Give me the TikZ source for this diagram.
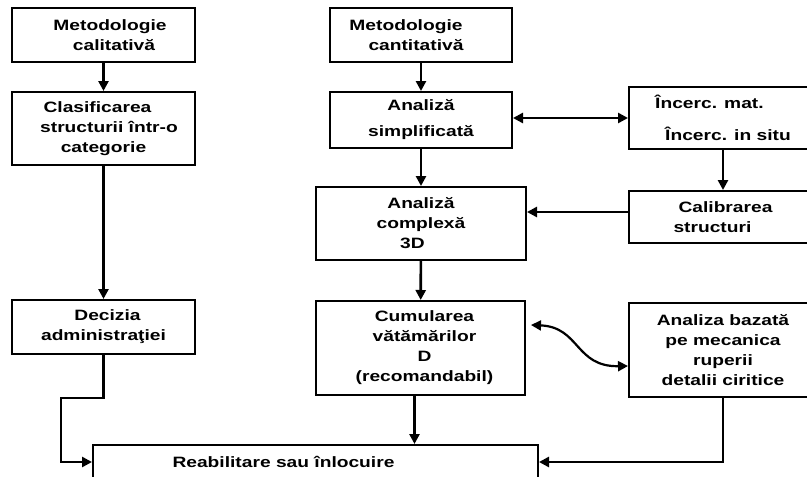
\documentclass[tikz,border=0pt]{standalone}
\usepackage{fontspec}
\setmainfont{Liberation Sans}[FakeStretch=1.28]
\usetikzlibrary{arrows.meta}
\begin{document}
\begin{tikzpicture}[x=1pt,y=-1pt,
  box/.style={draw, line width=2pt, inner sep=0pt, align=center,
    font=\fontsize{15}{20}\selectfont\bfseries},
  arr/.style={line width=2.6pt, -{Triangle[length=10pt,width=10pt]}},
  arrtwo/.style={line width=2.6pt, {Triangle[length=10pt,width=10pt]}-{Triangle[length=10pt,width=10pt]}}]
\useasboundingbox (0,0) rectangle (807,477);
\fill[white] (0,0) rectangle (807,477);
\clip (0,0) rectangle (807,477);
% left column
\node[box, minimum width=183pt, minimum height=54pt] (m1) at (103.5,35)
  {\hspace*{13pt}Metodologie\\\hspace*{21pt}calitativă};
\node[box, minimum width=183pt, minimum height=73pt] (c1) at (103.5,128.5)
  {Clasificarea\hspace*{12pt}\\\hspace*{11pt}structurii într-o\\categorie};
\node[box, minimum width=183pt, minimum height=54pt] (d1) at (103.5,327)
  {\hspace*{8pt}Decizia\\administraţiei};
% middle column
\node[box, minimum width=182pt, minimum height=54pt] (m2) at (421,35)
  {Metodologie\hspace*{30pt}\\cantitativă\hspace*{10pt}};
\node[box, minimum width=182pt, minimum height=56pt] (s2) at (421,120)
  {Analiză\\[6pt]simplificată};
\node[box, minimum width=210pt, minimum height=73pt] (x2) at (421,223.5)
  {Analiză\\complexă\hspace*{17pt}\\3D\hspace*{17pt}};
\node[box, minimum width=209pt, minimum height=94pt] (cu) at (420.5,348)
  {\hspace*{8pt}Cumularea\\\hspace*{8pt}vătămărilor\\\hspace*{8pt}D\\\hspace*{8pt}(recomandabil)};
% right column
\node[box, align=left, minimum width=188pt, minimum height=62pt] (inc) at (723,118)
  {Încerc. mat.\\[12pt]\hspace*{10pt}Încerc. in situ};
\node[box, align=left, minimum width=188pt, minimum height=52pt] (cal) at (723,217)
  {\hspace*{5pt}Calibrarea\\structuri};
\node[box, minimum width=188pt, minimum height=94pt] (an) at (723,350)
  {Analiza bazată\\pe mecanica\\ruperii\\detalii ciritice};
% bottom
\node[box, minimum width=445pt, minimum height=34pt] (reab) at (315.5,462)
  {Reabilitare sau înlocuire\hspace*{64pt}};
% connectors
\draw[arr] (m1) -- (c1);
\draw[arr] (c1) -- (d1);
\coordinate (k2) at (61,398);
\draw[arr] (d1.south) -- (d1.south |- k2) -- (k2) -- (k2 |- reab.west) -- (reab.west);
\draw[arr] (m2) -- (s2);
\draw[arr] (s2) -- (x2);
\draw[arr] (x2) -- (cu);
\draw[arrtwo] ([yshift=2pt]s2.east) -- ([yshift=2pt]s2.east -| inc.west);
\draw[arr] (inc.south) -- (cal.north);
\draw[arr] ([yshift=5pt]cal.west) -- ([yshift=5pt]cal.west -| x2.east);
\draw[arrtwo, line width=2.2pt] ([xshift=5pt,yshift=23pt]cu.east) .. controls (580,327) and (575,367) .. ([yshift=-16pt]an.west);
\draw[arr] ([xshift=-6pt]cu.south) -- ([xshift=-6pt]cu.south |- reab.north);
\draw[arr] (an.south) -- (an.south |- reab.east) -- (reab.east);
\end{tikzpicture}
\end{document}
